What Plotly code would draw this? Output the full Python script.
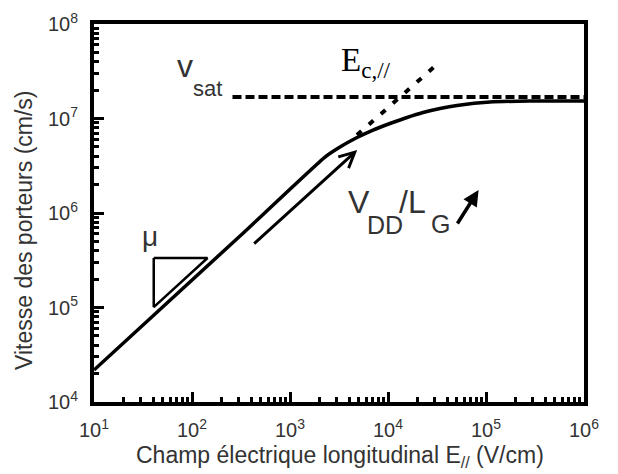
import numpy as np
import plotly.graph_objects as go

# ---- data (E in V/cm, v in cm/s) ----
field = [10, 309, 2276, 3236, 4830, 7030, 10470, 15630, 22760, 33950, 50580, 109900, 281000, 1000000]
velocity = [2.18e4, 5.71e5, 3.91e6, 4.99e6, 6.29e6, 7.55e6, 8.85e6, 1.025e7, 1.157e7, 1.276e7,
            1.374e7, 1.496e7, 1.53e7, 1.53e7]

vsat_field = [259, 1000000]
vsat_value = [1.69e7, 1.69e7]

linear_field = [4820, 32000]
linear_value = [6.68e6, 3.78e7]

mu_tri_field = [40.7, 144, 40.7, 40.7]
mu_tri_value = [3.34e5, 3.34e5, 1.01e5, 3.34e5]

arrow1_field = [416, 4850]      # tail, tip
arrow1_value = [4.58e5, 4.64e6]
arrow2_field = [5.0e4, 8.4e4]
arrow2_value = [7.47e5, 1.75e6]

x_tick_vals = [1e1, 1e2, 1e3, 1e4, 1e5, 1e6]
x_tick_text = ["10<sup>1</sup>", "10<sup>2</sup>", "10<sup>3</sup>", "10<sup>4</sup>", "10<sup>5</sup>", "10<sup>6</sup>"]
y_tick_vals = [1e4, 1e5, 1e6, 1e7, 1e8]
y_tick_text = ["10<sup>4</sup>", "10<sup>5</sup>", "10<sup>6</sup>", "10<sup>7</sup>", "10<sup>8</sup>"]

x_minor = [m * 10 ** k for k in range(1, 6) for m in range(2, 10)]
y_minor = [m * 10 ** k for k in range(4, 8) for m in range(2, 10)]

SANS = "Liberation Sans, Arial, sans-serif"
SERIF = "Liberation Serif, Times New Roman, serif"
TXT = "#333333"

fig = go.Figure()
fig.add_trace(go.Scatter(x=vsat_field, y=vsat_value, mode="lines",
                         line=dict(color="black", width=4, dash="9px,4px"), showlegend=False))
fig.add_trace(go.Scatter(x=linear_field, y=linear_value, mode="lines",
                         line=dict(color="black", width=4, dash="6px,10px"), showlegend=False))
fig.add_trace(go.Scatter(x=field, y=velocity, mode="lines",
                         line=dict(color="black", width=3.5, shape="spline", smoothing=0.5), showlegend=False))
fig.add_trace(go.Scatter(x=mu_tri_field, y=mu_tri_value, mode="lines",
                         line=dict(color="black", width=2.5), showlegend=False))

L = np.log10
annotations = [
    dict(x=L(arrow1_field[1]), y=L(arrow1_value[1]), ax=L(arrow1_field[0]), ay=L(arrow1_value[0]),
         xref="x", yref="y", axref="x", ayref="y", text="", showarrow=True,
         arrowhead=5, arrowsize=1, arrowwidth=3, arrowcolor="black", standoff=0),
    dict(x=L(arrow2_field[1]), y=L(arrow2_value[1]), ax=L(arrow2_field[0]), ay=L(arrow2_value[0]),
         xref="x", yref="y", axref="x", ayref="y", text="", showarrow=True,
         arrowhead=2, arrowsize=0.9, arrowwidth=3.5, arrowcolor="black", standoff=0),
]

# page has an 8px body margin; plot area spans page px x 94..584, y 24..402
def px_note(text, px, py, size, family=SANS, color=TXT, angle=0, xanchor="center"):
    annotations.append(dict(text=text, xref="paper", yref="paper",
                            x=(px - 94) / 490, y=(402 - py) / 378,
                            xanchor=xanchor, yanchor="middle", showarrow=False, textangle=angle,
                            font=dict(family=family, size=size, color=color)))

px_note("v", 185, 66, 32)
px_note("sat", 207, 88, 22)
px_note("E<sub>c,//</sub>", 339, 62, 33, family=SERIF, color="black", xanchor="left")
px_note("V", 359, 202, 32)
px_note("DD", 384.5, 225, 25)
px_note("/L", 412, 202, 32)
px_note("G", 440.5, 224, 25)
px_note("μ", 150, 236, 28)
px_note("Vitesse des porteurs (cm/s)", 24, 230, 23, angle=-90)
px_note("Champ électrique longitudinal E<sub>//</sub> (V/cm)", 340, 456, 23)

axis_common = dict(type="log", showgrid=False, zeroline=False, showline=True, linewidth=4,
                   linecolor="black", mirror=True, ticks="inside", ticklen=10, tickwidth=3,
                   tickcolor="black", automargin=False,
                   tickfont=dict(family=SANS, size=20, color=TXT))

fig.update_layout(
    width=610, height=466,
    margin=dict(l=86, r=34, t=16, b=72, autoexpand=False),
    paper_bgcolor="white", plot_bgcolor="white",
    xaxis=dict(axis_common, range=[1, 6], tickvals=x_tick_vals, ticktext=x_tick_text,
               ticklabelstandoff=7,
               minor=dict(tickvals=x_minor, ticks="inside", ticklen=5, tickwidth=2.5,
                          tickcolor="black", showgrid=False)),
    yaxis=dict(axis_common, range=[4, 8], tickvals=y_tick_vals, ticktext=y_tick_text,
               ticklabelstandoff=8,
               minor=dict(tickvals=y_minor, ticks="inside", ticklen=5, tickwidth=2.5,
                          tickcolor="black", showgrid=False)),
    annotations=annotations,
    showlegend=False,
)

fig.write_html("out.html")
